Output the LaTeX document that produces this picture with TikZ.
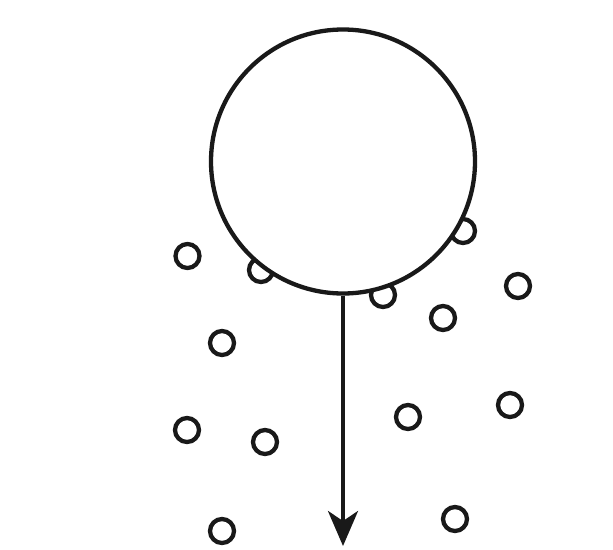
\documentclass[tikz,border=0pt]{standalone}
\usetikzlibrary{arrows.meta}
\begin{document}
\begin{tikzpicture}[x=1pt,y=-1pt,
  small/.style={circle,draw=black!90,line width=4.3pt,minimum size=24pt,inner sep=0pt},
  big/.style={circle,draw=black!90,fill=white,line width=4.3pt,minimum size=264pt,inner sep=0pt},
  flow/.style={draw=black!90,line width=3.8pt,-{Stealth[length=35pt,width=30pt,inset=10pt]}}]
\useasboundingbox (0,0) rectangle (613,549);
\node[small] (s1) at (187.5,256) {};
\node[small] (s2) at (261,270) {};
\node[small] (s3) at (463,231) {};
\node[small] (s4) at (383,295) {};
\node[small] (s5) at (518,286) {};
\node[small] (s6) at (443,318) {};
\node[small] (s7) at (222,343) {};
\node[small] (s8) at (187,430) {};
\node[small] (s9) at (265,442) {};
\node[small] (s10) at (408,417) {};
\node[small] (s11) at (510,405) {};
\node[small] (s12) at (222,531) {};
\node[small] (s13) at (455,519) {};
\node[big] (b) at (343,161.5) {};
\coordinate (end) at (343,546);
\draw[flow] (b.south) -- (end);
\end{tikzpicture}
\end{document}
